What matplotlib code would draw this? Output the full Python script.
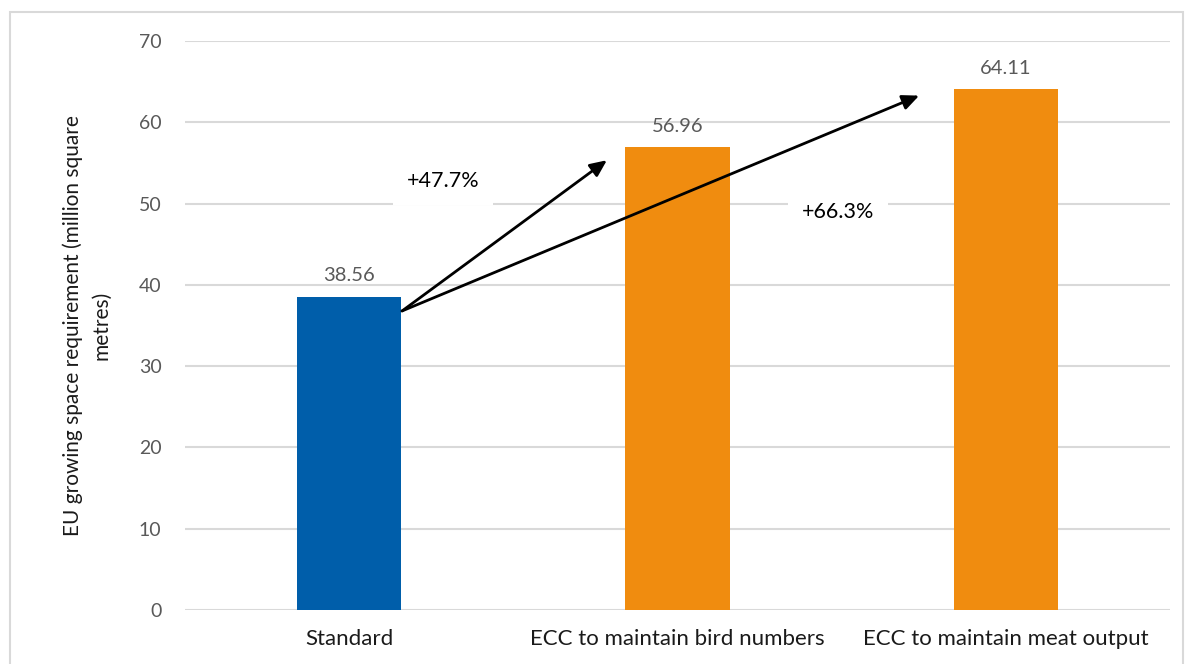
import matplotlib.pyplot as plt
from matplotlib.patches import Rectangle

categories = ["Standard", "ECC to maintain bird numbers", "ECC to maintain meat output"]
values = [38.56, 56.96, 64.11]
colors = ["#005EAA", "#F08C0F"]
increases = ["+47.7%", "+66.3%"]

plt.rcParams["font.family"] = ["Lato", "DejaVu Sans"]

fig = plt.figure(figsize=(11.86, 6.64), dpi=100)
ax = fig.add_axes([0.156, 0.0813, 0.8305, 0.8567])

# figure border
fig.patches.append(Rectangle((10 / 1186, -0.01), 1173 / 1186, 1 - 12 / 664 + 0.01,
                             transform=fig.transFigure, fill=False,
                             edgecolor="#D9D9D9", linewidth=1.5))

x = list(range(len(categories)))
bar_colors = [colors[0]] + [colors[1]] * (len(values) - 1)
bars = ax.bar(x, values, width=0.317, color=bar_colors, zorder=3)

for xi, v in zip(x, values):
    ax.text(xi, v + 1.5, f"{v:.2f}", ha="center", va="bottom",
            fontsize=14.5, color="#595959", zorder=4)

ax.set_xlim(-0.5, 2.5)
ax.set_ylim(0, 70)
ax.set_yticks(range(0, 71, 10))
ax.set_xticks(x)
ax.set_xticklabels(categories, fontsize=16, color="#1a1a1a")
ax.tick_params(axis="y", labelsize=14, labelcolor="#595959", length=0, pad=17)
ax.tick_params(axis="x", length=0, pad=14)
ax.grid(axis="y", color="#D9D9D9", linewidth=1.5, zorder=0)
for side in ["top", "right", "left", "bottom"]:
    ax.spines[side].set_visible(False)

ax.set_ylabel("EU growing space requirement (million square\nmetres)",
              fontsize=15, color="#1a1a1a", labelpad=20, linespacing=1.5)

# percentage-change arrows from the top of the standard bar
start = (0.161, 36.8)
ends = [(0.785, 55.35), (1.736, 63.3)]
for end in ends:
    ax.annotate("", xy=end, xytext=start,
                arrowprops=dict(arrowstyle="-|>,head_length=1.0,head_width=0.45",
                                color="black", lw=2, shrinkA=0, shrinkB=0),
                zorder=5)

label_pos = [(0.286, 52.8), (1.489, 48.95)]
for (lx, ly), txt in zip(label_pos, increases):
    ax.text(lx, ly, txt, ha="center", va="center", fontsize=15.5, color="black",
            bbox=dict(facecolor="white", edgecolor="none", pad=10), zorder=4)

fig.savefig("out.png", dpi=100)
